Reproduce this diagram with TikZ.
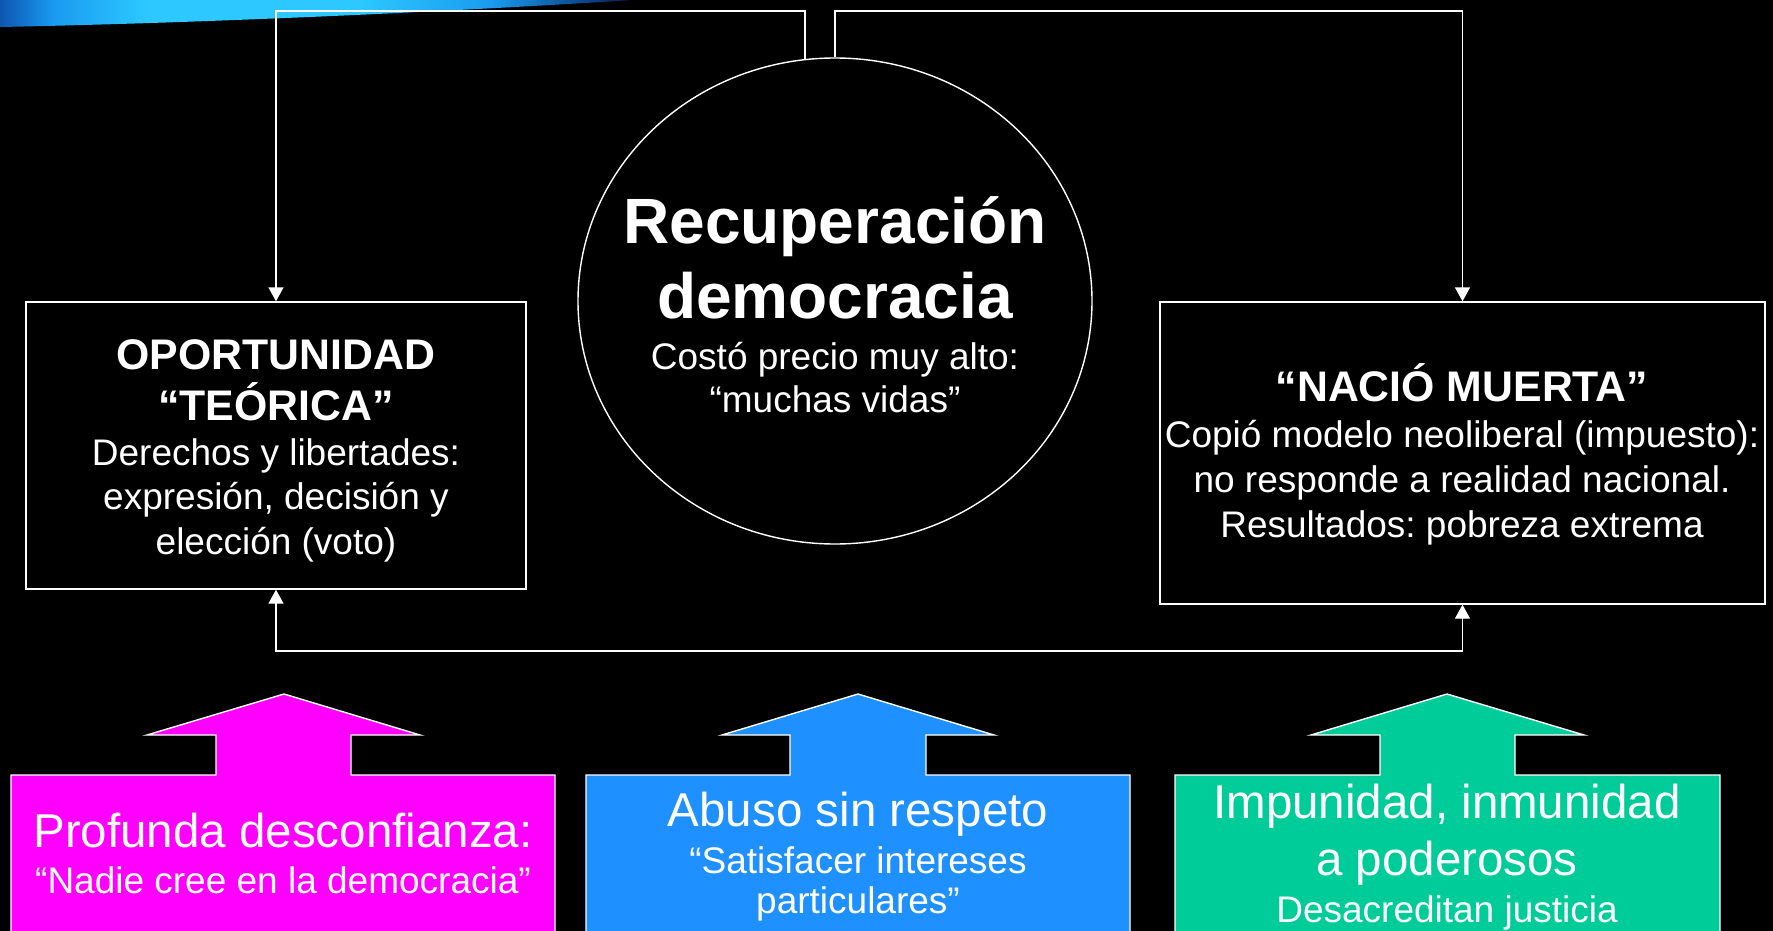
\documentclass[tikz,border=0pt]{standalone}
\usepackage{fontspec}
\setmainfont{Liberation Sans}
\frenchspacing
\usetikzlibrary{arrows.meta,shapes.geometric}
\definecolor{pinkc}{HTML}{FF00FF}
\definecolor{bluec}{HTML}{1E90FF}
\definecolor{greenc}{HTML}{00CC99}
\definecolor{sw0}{HTML}{0E55B0}
\definecolor{sw1}{HTML}{1A9AF0}
\definecolor{sw2}{HTML}{2CC8FF}
\definecolor{sw3}{HTML}{0A3A78}
\pgfdeclarehorizontalshading{swoosh}{100bp}{color(0bp)=(sw0); color(25bp)=(sw0); color(29bp)=(sw1); color(36bp)=(sw2); color(52bp)=(sw2); color(62bp)=(sw1); color(70bp)=(sw3); color(75bp)=(black); color(100bp)=(black)}
\tikzset{
  conn/.style={draw=white, line width=0.7pt, -{Triangle[width=7.5pt,length=7pt]}},
  conn2/.style={draw=white, line width=0.7pt, {Triangle[width=7.5pt,length=7pt]}-{Triangle[width=7.5pt,length=7pt]}},
  box/.style={draw=white, line width=0.7pt, fill=black, rectangle, inner sep=0pt},
  t/.style={text=white, inner sep=0pt, anchor=base},
  fbig/.style={font=\bfseries\fontsize{32}{38}\selectfont},
  fhead/.style={font=\bfseries\fontsize{21.4}{26}\selectfont},
  fbody/.style={font=\fontsize{18.5}{22}\selectfont},
  fblock/.style={font=\fontsize{23.75}{28}\selectfont},
  block/.style={draw=white, line width=0.7pt}
}
\begin{document}
\begin{tikzpicture}[x=0.5pt,y=-0.5pt]
\useasboundingbox (0,0) rectangle (1773,931);
\clip (0,0) rectangle (1773,931);
\fill[black] (0,0) rectangle (1773,931);
% swoosh
\shade[shading=swoosh] (0,-2) -- (0,27) .. controls (200,23) and (450,12) .. (665,-2) -- cycle;

% main nodes
\node[ellipse, draw=white, line width=0.7pt, fill=black, minimum width=257pt, minimum height=243pt, inner sep=0pt] (circ) at (835,301) {};
\node[box, minimum width=250pt, minimum height=143.5pt] (lbox) at (276,445.5) {};
\node[box, minimum width=302.5pt, minimum height=151pt] (rbox) at (1462.5,453) {};

% connectors
\coordinate (cL) at (805,60);
\coordinate (tL) at (805,11);
\coordinate (tR) at (835,11);
\coordinate (bot) at (870,651);
\draw[conn] (cL) -- (tL) -| (lbox.north);
\draw[conn] (circ.north) -- (tR) -| (rbox.north);
\draw[conn2] (lbox.south) |- (bot) -| (rbox.south);

% circle text
\node[t, fbig] (c1) at (835,243) {Recuperación};
\node[t, fbig] (c2) at (835,318) {democracia};
\node[t, fbody] (c3) at (835,369) {Costó precio muy alto:};
\node[t, fbody] (c4) at (835,412) {“muchas vidas”};

% left box text
\node[t, fhead] (l1) at (276,369) {OPORTUNIDAD};
\node[t, fhead] (l2) at (276,420) {“TEÓRICA”};
\node[t, fbody] (l3) at (276,465) {Derechos y libertades:};
\node[t, fbody] (l4) at (276,509) {expresión, decisión y};
\node[t, fbody] (l5) at (276,554) {elección (voto)};

% right box text
\node[t, fhead] (r1) at (1462,401) {“NACIÓ MUERTA”};
\node[t, fbody] (r2) at (1462,447) {Copió modelo neoliberal (impuesto):};
\node[t, fbody] (r3) at (1462,492) {no responde a realidad nacional.};
\node[t, fbody] (r4) at (1462,537) {Resultados: pobreza extrema};

% block arrows
\draw[block, fill=pinkc] (11,950) -- (11,775) -- (216,775) -- (216,735) -- (147,735) -- (284,694) -- (420,735) -- (351,735) -- (351,775) -- (555,775) -- (555,950) -- cycle;
\draw[block, fill=bluec] (586,950) -- (586,775) -- (790,775) -- (790,735) -- (722,735) -- (858,694) -- (994,735) -- (926,735) -- (926,775) -- (1130,775) -- (1130,950) -- cycle;
\draw[block, fill=greenc] (1175,950) -- (1175,775) -- (1380,775) -- (1380,735) -- (1311,735) -- (1447,694) -- (1584,735) -- (1515,735) -- (1515,775) -- (1720,775) -- (1720,950) -- cycle;

% block texts
\node[t, fblock] (p1) at (283,847) {Profunda desconfianza:};
\node[t, fbody] (p2) at (283,893) {“Nadie cree en la democracia”};
\node[t, fblock] (b1) at (858,826) {Abuso sin respeto};
\node[t, fbody] (b2) at (858,873) {“Satisfacer intereses};
\node[t, fbody] (b3) at (858,913) {particulares”};
\node[t, fblock] (g1) at (1447,818) {Impunidad, inmunidad};
\node[t, fblock] (g2) at (1447,875) {a poderosos};
\node[t, fbody] (g3) at (1447,922) {Desacreditan justicia};
\end{tikzpicture}
\end{document}
